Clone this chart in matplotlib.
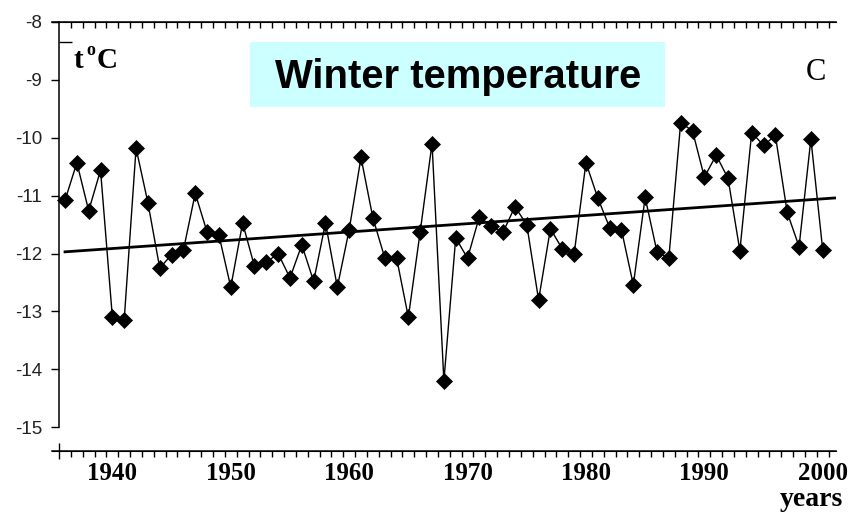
import numpy as np
import matplotlib.pyplot as plt
from matplotlib.patches import Rectangle

# mean winter temperature by year
years = np.arange(1936, 2001)
temps = [
    -11.08, -10.43, -11.26, -10.56, -13.10, -13.14, -10.18, -11.12, -12.25, -12.02,
    -11.94, -10.96, -11.63, -11.68, -12.58, -11.47, -12.22, -12.15, -12.00, -12.42,
    -11.85, -12.48, -11.47, -12.58, -11.59, -10.34, -11.38, -12.07, -12.07, -13.10,
    -11.62, -10.10, -14.20, -11.73, -12.08, -11.36, -11.53, -11.63, -11.19, -11.50,
    -12.80, -11.57, -11.92, -12.01, -10.43, -11.04, -11.55, -11.59, -12.54, -11.03,
    -11.97, -12.08, -9.74, -9.88, -10.68, -10.30, -10.70, -11.95, -9.91, -10.13,
    -9.96, -11.29, -11.88, -10.02, -11.94,
]

# linear trend end points
trend_years = [1936, 2001]
trend_temps = [-11.97, -11.04]

y_ticks = [-15, -14, -13, -12, -11, -10, -9, -8]
decades = [1940, 1950, 1960, 1970, 1980, 1990, 2000]
year_edges = np.arange(1935.5, 2001, 1.0)

W, H = 850, 514


def fx(px):
    return px / W


def fy(py):
    return 1 - py / H


fig = plt.figure(figsize=(W / 100, H / 100), dpi=100)
ax = fig.add_axes([fx(52), fy(451), fx(836) - fx(52), fy(22) - fy(451)])
ax.set_xlim(1934.9, 2001.12)
ax.set_ylim(-15.41, -8.0)

ax.plot(years, temps, color='black', lw=1.0, marker='D', ms=7.8,
        mfc='black', mec='black', mew=0.5, zorder=3)
ax.plot(trend_years, trend_temps, color='black', lw=2.0, zorder=2)

# axes frame
ax.spines['right'].set_visible(False)
ax.spines['left'].set_position(('data', 1935.5))
ax.spines['left'].set_bounds(-15, -8)
for s in ['left', 'top', 'bottom']:
    ax.spines[s].set_linewidth(1.1)

ax.set_yticks(y_ticks)
ax.set_yticklabels([str(v) for v in y_ticks])
ax.set_yticks([-8.34], minor=True)
ax.tick_params(axis='y', which='major', direction='out', length=5.8, width=1,
               pad=6.5, labelsize=13.5, labelcolor='#222222')
ax.tick_params(axis='y', which='minor', direction='in', length=9.5, width=1)
for lbl in ax.get_yticklabels():
    lbl.set_fontfamily('Liberation Sans')

ax.set_xticks(decades)
ax.set_xticklabels([str(d) for d in decades])
ax.set_xticks(year_edges[1:], minor=True)
ax.tick_params(axis='x', which='major', length=0, pad=8.0, labelsize=18)
ax.tick_params(axis='x', which='minor', direction='out', length=4.3, width=1)
for lbl in ax.get_xticklabels():
    lbl.set_fontfamily('Liberation Serif')
    lbl.set_fontweight('bold')

# long tick where the y axis meets the x axis
corner = ax.secondary_xaxis('bottom')
corner.set_xticks([year_edges[0]])
corner.tick_params(direction='inout', length=12, width=1, labelbottom=False)

# inward ticks along the top line
top = ax.secondary_xaxis('top')
top.set_xticks(year_edges[1:])
top.tick_params(direction='in', length=4.3, width=1, labeltop=False)

# unit label and panel letter
serif_b = dict(family='Liberation Serif', weight='bold', color='black')
fig.text(fx(74), fy(68), 't', fontsize=21, **serif_b)
fig.text(fx(86), fy(55), 'o', fontsize=13, **serif_b)
fig.text(fx(97), fy(68), 'C', fontsize=21, **serif_b)
fig.text(fx(806), fy(80), 'C', fontsize=22, family='Liberation Serif', color='black')

# title box
fig.patches.append(Rectangle((fx(250), fy(107)), fx(665) - fx(250), fy(42) - fy(107),
                             transform=fig.transFigure, facecolor='#ccffff',
                             edgecolor='none', zorder=5))
fig.text(fx(458), fy(88), 'Winter temperature', fontsize=28.8, weight='bold',
         family='Liberation Sans', ha='center', va='baseline', zorder=6)

fig.text(fx(843), fy(506), 'years', fontsize=20, ha='right', va='baseline', **serif_b)

fig.savefig('out.png', dpi=100)
